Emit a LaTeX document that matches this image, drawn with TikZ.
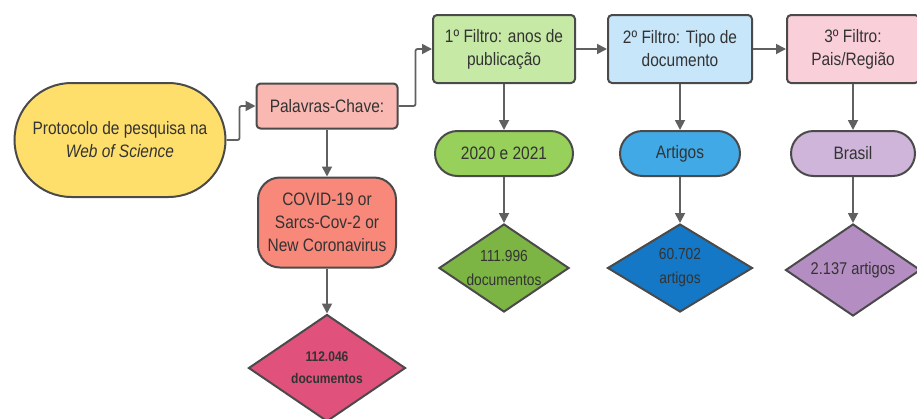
\documentclass[tikz,border=0pt]{standalone}
\usepackage{fontspec}
\setmainfont[FakeStretch=0.86]{Liberation Sans}
\usetikzlibrary{positioning, shapes.geometric, shapes.misc, arrows.meta}
\definecolor{Edge}{HTML}{4A4A4A}
\definecolor{ArrowGray}{HTML}{606060}
\definecolor{Ink}{HTML}{333333}
\definecolor{Yellow}{HTML}{FFDF6B}
\definecolor{KeyPink}{HTML}{F9B9B2}
\definecolor{Salmon}{HTML}{F7887A}
\definecolor{Rose}{HTML}{E0527C}
\definecolor{LightGreen}{HTML}{C6E9A6}
\definecolor{Green}{HTML}{97D15C}
\definecolor{DarkGreen}{HTML}{7DB545}
\definecolor{LightBlue}{HTML}{C7E6FA}
\definecolor{Blue}{HTML}{40A9E6}
\definecolor{DarkBlue}{HTML}{1478C6}
\definecolor{LightPink}{HTML}{F9CFDA}
\definecolor{Lavender}{HTML}{CEB5D9}
\definecolor{Purple}{HTML}{B48EC2}
\tikzstyle{Arrow} = [line width=1.8pt, draw=ArrowGray, rounded corners=2pt,
-{Triangle[length=10pt,width=10pt]}]
\tikzstyle{Box} = [draw=Edge, line width=2pt, rounded corners=4pt, align=center,
text=Ink, font=\fontsize{18}{23}\selectfont, inner sep=2pt]
\tikzstyle{Pill} = [Box, rounded rectangle, sharp corners]
\tikzstyle{Decision} = [diamond, aspect=1.5, draw=Edge, line width=2pt, align=center,
text=Ink, font=\fontsize{16}{24}\selectfont, inner sep=0pt]

\begin{document}
\begin{tikzpicture}[x=1pt, y=-1pt, node distance=46pt and 32pt]
    \useasboundingbox (0,0) rectangle (917,418);
    \node (1) [Pill, fill=Yellow, minimum width=215pt, minimum height=114pt] at (120,140) {Protocolo de pesquisa na\\ \textit{Web of Science}};
    \node (2) [Box, fill=KeyPink, minimum width=141pt, minimum height=45pt] at (327,106) {Palavras-Chave:};
    \node [below =47pt of 2] (3) [Box, rounded corners=22pt, fill=Salmon, minimum width=138pt, minimum height=90pt] {COVID-19 or\\ Sarcs-Cov-2 or\\ New Coronavirus};
    \node [below =45pt of 3] (4) [Decision, fill=Rose, minimum width=157pt, minimum height=107pt, font=\bfseries\fontsize{14}{22}\selectfont] {112.046\\ documentos};
    \node (5) [Box, fill=LightGreen, minimum width=142pt, minimum height=68pt] at (504,49) {1º Filtro: anos de\\ publicação};
    \node [below =of 5] (6) [Pill, fill=Green, minimum width=142pt, minimum height=45pt] {2020 e 2021};
    \node [below =of 6] (7) [Decision, fill=DarkGreen, minimum width=130pt, minimum height=88pt] {111.996\\ documentos};
    \node [right =31pt of 5] (8) [Box, fill=LightBlue, minimum width=144pt, minimum height=68pt] {2º Filtro: Tipo de\\ documento};
    \node [below =of 8] (9) [Pill, fill=Blue, minimum width=124pt, minimum height=45pt] {Artigos};
    \node [below =of 9] (10) [Decision, fill=DarkBlue, minimum width=145pt, minimum height=88pt] {60.702\\ artigos};
    \node [right =33pt of 8] (11) [Box, fill=LightPink, minimum width=132pt, minimum height=68pt] {3º Filtro:\\ Pais/Região};
    \node [below =of 11] (12) [Pill, fill=Lavender, minimum width=128pt, minimum height=45pt] {Brasil};
    \node [below =of 12] (13) [Decision, fill=Purple, minimum width=135pt, minimum height=92pt, font=\fontsize{17}{20}\selectfont] {2.137 artigos};
    \draw[Arrow] (1.east) -- ++(13,0) |- (2.west);
    \draw[Arrow] (2.east) -- ++(17,0) |- (5.west);
    \draw[Arrow] (5.east)--(8.west);
    \draw[Arrow] (8.east)--(11.west);
    \draw[Arrow] (2.south)--(3.north);
    \draw[Arrow] (3.south)--(4.north);
    \draw[Arrow] (5.south)--(6.north);
    \draw[Arrow] (6.south)--(7.north);
    \draw[Arrow] (8.south)--(9.north);
    \draw[Arrow] (9.south)--(10.north);
    \draw[Arrow] (11.south)--(12.north);
    \draw[Arrow] (12.south)--(13.north);
\end{tikzpicture}
\end{document}
